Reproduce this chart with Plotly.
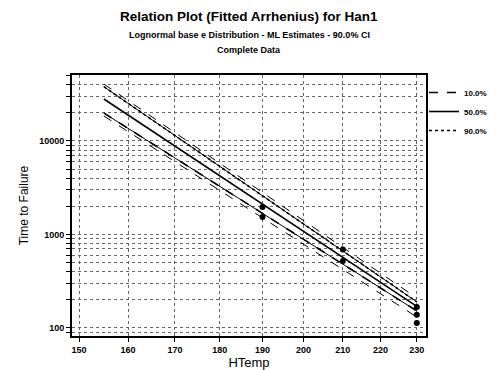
import numpy as np
import plotly.graph_objects as go

# ---- data ----
line_temps = [155, 230]                 # HTemp (deg C)
p10_life = [19900, 152]                 # 10.0% line
p50_life = [28100, 170]                 # 50.0% line
p90_life = [38100, 190]                 # 90.0% line
upper_bound = [40700, 209]              # 90% CI upper bound (of 90% line)
lower_bound = [18500, 131]              # 90% CI lower bound (of 10% line)

data_temps = [190, 190, 210, 210, 230, 230, 230]
data_times = [1970, 1540, 690, 520, 168, 138, 113]

x_ticks = [150, 160, 170, 180, 190, 200, 210, 220, 230]
y_labelled = [100, 1000, 10000]
x_limits = [148.6, 232.6]
y_limits = [82, 50800]


def inv(t):
    # Arrhenius axis: reciprocal absolute temperature
    return 1.0 / (np.asarray(t, dtype=float) + 273.15)


FONT = "Liberation Sans"
W, H = 499, 370
ML, MR, MT, MB = 72, 73, 75, 34
fig = go.Figure()

# confidence bounds
for b in (upper_bound, lower_bound):
    fig.add_trace(go.Scatter(x=inv(line_temps), y=b, mode="lines",
                             line=dict(color="black", width=1, dash="dash"),
                             showlegend=False, hoverinfo="skip"))

fig.add_trace(go.Scatter(x=inv(line_temps), y=p10_life, mode="lines", name="10.0%",
                         line=dict(color="black", width=1.6, dash="dash")))
fig.add_trace(go.Scatter(x=inv(line_temps), y=p50_life, mode="lines", name="50.0%",
                         line=dict(color="black", width=1.6)))
fig.add_trace(go.Scatter(x=inv(line_temps), y=p90_life, mode="lines", name="90.0%",
                         line=dict(color="black", width=1.6, dash="dot")))
# solid companions so the percentile lines read as heavy as in the scan
for p in (p10_life, p90_life):
    fig.add_trace(go.Scatter(x=inv(line_temps), y=p, mode="lines",
                             line=dict(color="black", width=1.0),
                             showlegend=False, hoverinfo="skip"))

fig.add_trace(go.Scatter(x=inv(data_temps), y=data_times, mode="markers",
                         marker=dict(color="black", size=6, symbol="circle"),
                         showlegend=False))

# y tick grid at every 1..9 x decade, labels only at decades
y_vals, y_text = [], []
for dec in [10, 100, 1000, 10000]:
    for m in range(1, 10):
        v = m * dec
        if y_limits[0] <= v <= y_limits[1]:
            y_vals.append(v)
            y_text.append(str(v) if v in y_labelled else "")

plot_h = H - MT - MB
plot_w = W - ML - MR


def py(pix):
    return (H - MB - pix) / plot_h


def px(pix):
    return (pix - ML) / plot_w


fig.update_layout(
    width=W, height=H,
    margin=dict(l=ML, r=MR, t=MT, b=MB, autoexpand=False),
    paper_bgcolor="white", plot_bgcolor="white",
    font=dict(family=FONT, color="black", size=9),
    showlegend=True,
    legend=dict(x=px(424), y=py(78), xanchor="left", yanchor="top",
                font=dict(size=8, family=FONT, weight="bold", color="black"),
                bgcolor="rgba(0,0,0,0)", tracegroupgap=0, itemwidth=30),
    annotations=[
        dict(text="<b>Relation Plot (Fitted Arrhenius) for Han1</b>", x=0.5, y=py(17),
             xref="paper", yref="paper", showarrow=False, yanchor="middle",
             font=dict(size=13.5, family=FONT, color="black")),
        dict(text="<b>Lognormal base e Distribution - ML Estimates - 90.0% CI</b>", x=0.5,
             y=py(35), xref="paper", yref="paper", showarrow=False, yanchor="middle",
             font=dict(size=9, family=FONT, color="black")),
        dict(text="<b>Complete Data</b>", x=0.5, y=py(50),
             xref="paper", yref="paper", showarrow=False, yanchor="middle",
             font=dict(size=9, family=FONT, color="black")),
    ],
)

fig.update_xaxes(
    range=[float(inv(x_limits[0])), float(inv(x_limits[1]))],
    tickmode="array", tickvals=list(inv(x_ticks)), ticktext=[str(t) for t in x_ticks],
    ticks="outside", ticklen=4, tickcolor="black", automargin=False,
    showgrid=True, gridcolor="#666", gridwidth=1, griddash="dot",
    showline=True, linecolor="black", linewidth=2, mirror=True, zeroline=False,
    tickfont=dict(size=9, family=FONT, weight="bold", color="black"),
    title=dict(text="HTemp", font=dict(size=13, family=FONT, color="black"), standoff=4),
)
fig.update_yaxes(
    type="log",
    range=[np.log10(y_limits[0]), np.log10(y_limits[1])],
    tickmode="array", tickvals=y_vals, ticktext=y_text,
    ticks="outside", ticklen=4, tickcolor="black", automargin=False,
    showgrid=True, gridcolor="#666", gridwidth=1, griddash="dot",
    showline=True, linecolor="black", linewidth=2, mirror=True, zeroline=False,
    tickfont=dict(size=9, family=FONT, weight="bold", color="black"),
    title=dict(text="Time to Failure", font=dict(size=12, family=FONT, color="black"),
               standoff=8),
)

fig.write_html("out.html", config={"displayModeBar": False},
               post_script="document.body.style.margin='0';")
